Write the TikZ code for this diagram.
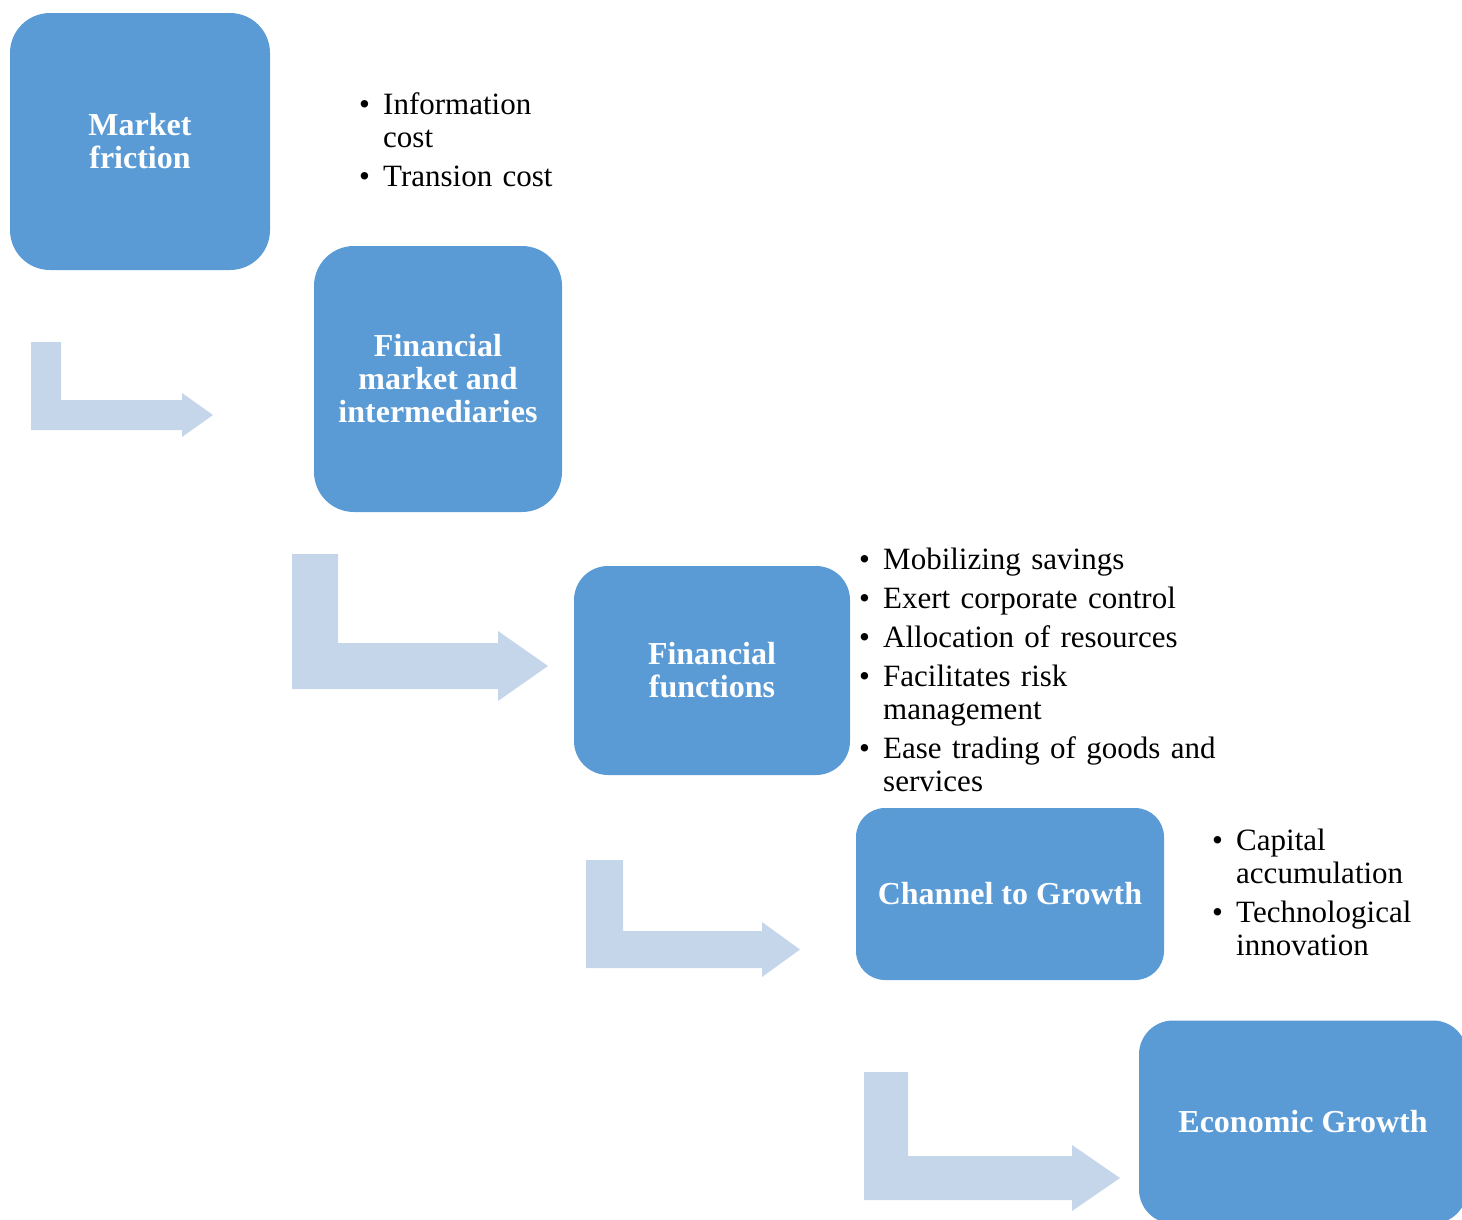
\documentclass[tikz,border=0pt]{standalone}
\usepackage{fontspec}
\setmainfont{Liberation Serif}
\definecolor{boxblue}{HTML}{5B9BD5}
\definecolor{arrowblue}{HTML}{C5D5EA}
\newcommand{\bul}[1]{\hangindent=24pt\hangafter=1\noindent\makebox[24pt][l]{\textbullet}#1\par\vskip6pt}
% bent arrow: left, top, bar, bottom, head start, tip, half head
\newcommand{\bentarrow}[7]{%
  \fill[arrowblue] (#1,#2) -- (#1+#3,#2) -- (#1+#3,#4-#3) -- (#5,#4-#3)
    -- (#5,#4-#3/2-#7) -- (#6,#4-#3/2) -- (#5,#4-#3/2+#7) -- (#5,#4) -- (#1,#4) -- cycle;}
\begin{document}
\begin{tikzpicture}[x=1pt, y=-1pt,
    stage/.style={fill=boxblue, text=white, align=center, inner sep=0pt,
      font=\fontsize{32}{33}\selectfont\bfseries},
    bullets/.style={anchor=base west, inner sep=0pt, text width=420pt, align=left,
      font=\fontsize{31}{33}\selectfont}]
    \clip (0,0) rectangle (1462,1219);

    % Nodes
    \node at (140, 141.5) (friction) [stage, minimum width=260, minimum height=257, rounded corners=40] {Market\\friction};
    \node at (438, 379) (market) [stage, minimum width=248, minimum height=266, rounded corners=40] {Financial\\market and\\intermediaries};
    \node at (712, 670.5) (functions) [stage, minimum width=276, minimum height=209, rounded corners=34] {Financial\\functions};
    \node at (1010, 894) (channel) [stage, minimum width=308, minimum height=172, rounded corners=29] {Channel to Growth};
    \node at (1303, 1122) (growth) [stage, minimum width=328, minimum height=203, rounded corners=34] {Economic Growth};

    % Lists
    \node at (359, 114) (costs) [bullets] {\bul{Information\newline cost}\bul{Transion cost}};
    \node at (859, 569) (roles) [bullets] {\bul{Mobilizing savings}\bul{Exert corporate control}\bul{Allocation of resources}\bul{Facilitates risk\newline management}\bul{Ease trading of goods and\newline services}};
    \node at (1212, 850) (channels) [bullets] {\bul{Capital\newline accumulation}\bul{Technological\newline innovation}};

    % Arrows
    \bentarrow{31}{342}{30}{430}{182}{213}{22}
    \bentarrow{292}{554}{46}{689}{498}{548}{35}
    \bentarrow{586}{860}{37}{968}{762}{800}{27.5}
    \bentarrow{864}{1072}{44}{1200}{1072}{1120}{33}
\end{tikzpicture}
\end{document}
